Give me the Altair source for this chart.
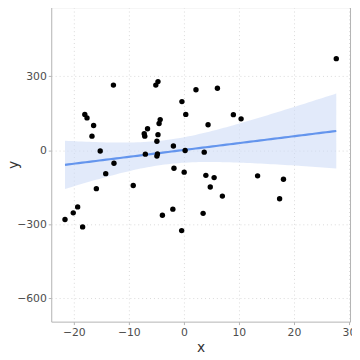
import altair as alt
import numpy as np
import pandas as pd

xs = [-21.6, -20.1, -19.3, -18.4, -18.0, -17.6, -16.7, -16.4, -15.9, -15.2,
      -14.2, -12.8, -12.7, -9.2, -7.2, -7.1, -7.0, -6.6, -5.1, -4.7,
      -4.9, -4.7, -4.9, -4.8, -4.5, -4.3, -3.9, -2.0, -1.9, -1.8,
      -0.4, -0.35, 0.06, 0.23, 0.35, 2.2, 3.5, 3.7, 4.0, 4.4,
      4.8, 5.5, 6.1, 7.0, 9.0, 10.4, 13.4, 17.4, 18.1, 27.7]
ys = [-281, -254, -230, -311, 145, 131, 57, 100, -156, -3,
      -95, 264, -53, -143, 67, 57, -16, 87, 264, 278,
      36, 63, -24, -15, 108, 124, -264, -239, 17, -73,
      -326, 197, -89, -1, 145, 245, -256, -8, -102, 103,
      -149, -111, 251, -186, 144, 127, -104, -197, -118, 371]

x = np.array(xs, dtype=float)
y = np.array(ys, dtype=float)
n = len(x)
b, a = np.polyfit(x, y, 1)
resid = y - (a + b * x)
s = np.sqrt(np.sum(resid ** 2) / (n - 2))
xbar = x.mean()
sxx = np.sum((x - xbar) ** 2)
tq = 2.0106
grid = np.linspace(x.min(), x.max(), 80)
fit = a + b * grid
se = s * np.sqrt(1.0 / n + (grid - xbar) ** 2 / sxx)
band = pd.DataFrame({"x": grid, "fit": fit, "lo": fit - tq * se, "hi": fit + tq * se})
pts = pd.DataFrame({"x": xs, "y": ys})

xscale = alt.Scale(domain=[-24.1, 30.2], nice=False, zero=False)
yscale = alt.Scale(domain=[-695, 580], nice=False, zero=False)

xaxis = alt.Axis(values=[-20, -10, 0, 10, 20, 30], title="x", grid=True,
                 gridDash=[1, 3], gridColor="#d9d9d9", tickColor="#b3b3b3",
                 tickSize=3, domain=False, labelColor="#4d4d4d", labelFontSize=11,
                 titleFontSize=14, titleFontWeight="normal", titleColor="#333333",
                 labelPadding=2, titlePadding=3)
yaxis = alt.Axis(values=[-600, -300, 0, 300], title="y", grid=True,
                 gridDash=[1, 3], gridColor="#d9d9d9", tickColor="#b3b3b3",
                 tickSize=3, domain=False, labelColor="#4d4d4d", labelFontSize=11,
                 titleFontSize=14, titleFontWeight="normal", titleColor="#333333",
                 labelPadding=2, titleX=-38, titleY=160, titleAngle=270,
                 titleBaseline="middle", titleAlign="center")

ribbon = alt.Chart(band).mark_area(color="#cfdcf7", opacity=0.6).encode(
    x=alt.X("x:Q", scale=xscale, axis=xaxis),
    y=alt.Y("lo:Q", scale=yscale, axis=yaxis),
    y2="hi:Q",
)
line = alt.Chart(band).mark_line(color="#6495ED", strokeWidth=2.2).encode(
    x=alt.X("x:Q", scale=xscale),
    y=alt.Y("fit:Q", scale=yscale),
)
points = alt.Chart(pts).mark_circle(color="black", opacity=1, size=30).encode(
    x=alt.X("x:Q", scale=xscale),
    y=alt.Y("y:Q", scale=yscale),
)

chart = (ribbon + line + points).properties(
    width=304, height=320,
    autosize=alt.AutoSizeParams(type="none"),
    padding={"left": 44, "top": -4, "right": 2, "bottom": 40},
).configure_view(stroke="#b3b3b3", strokeWidth=1).configure_axis(
    labelFont="DejaVu Sans", titleFont="DejaVu Sans"
)

chart.save("out.html", embed_options={"renderer": "svg", "actions": False})
